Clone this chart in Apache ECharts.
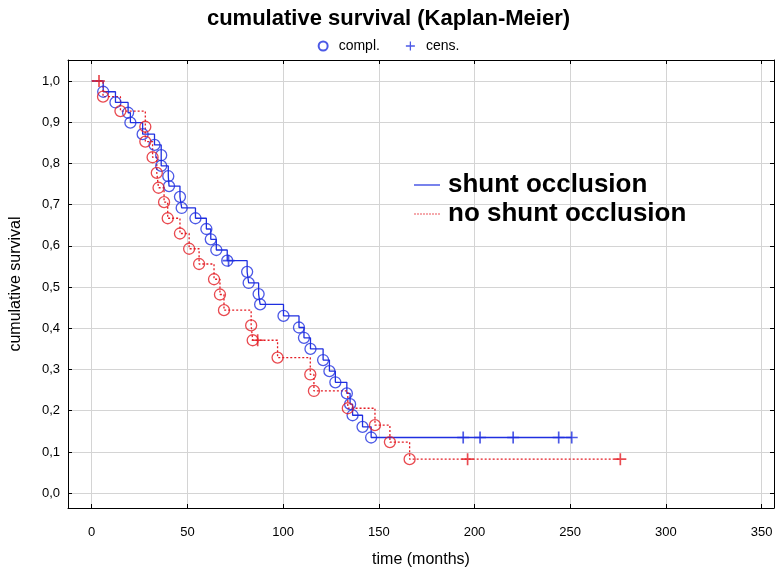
<!DOCTYPE html>
<html><head><meta charset="utf-8">
<script src="https://cdn.jsdelivr.net/npm/echarts@6/dist/echarts.min.js"></script>
<style>html,body{margin:0;padding:0;background:#fff}#c{width:777px;height:574px}</style>
</head><body><div id="c"></div>
<script>
// ---- data ----
const blueTimes = [6.0, 12.4, 19.0, 20.2, 26.6, 32.8, 36.3, 36.3, 40.0, 40.4, 46.1, 47.0, 54.2, 59.9, 62.2, 65.1, 70.8, 81.2, 82.0, 87.2, 88.0, 100.2, 108.3, 110.9, 114.3, 120.9, 124.2, 127.3, 133.3, 135.0, 136.3, 141.5, 146.0];
const blueSurv  = [0.974, 0.948, 0.923, 0.899, 0.871, 0.845, 0.820, 0.794, 0.769, 0.745, 0.719, 0.692, 0.667, 0.641, 0.616, 0.590, 0.564, 0.537, 0.510, 0.483, 0.458, 0.430, 0.402, 0.377, 0.350, 0.323, 0.296, 0.269, 0.242, 0.216, 0.189, 0.161, 0.135];
const blueCensored = [71.5, 194.1, 202.9, 220.2, 244.0, 250.8];
const redTimes = [5.9, 15.0, 28.0, 28.0, 31.8, 34.0, 34.9, 37.8, 39.7, 46.1, 50.9, 56.1, 63.9, 67.0, 69.1, 83.3, 84.1, 97.1, 114.2, 116.1, 133.8, 148.0, 155.8, 166.1];
const redSurv  = [0.962, 0.927, 0.889, 0.853, 0.815, 0.777, 0.741, 0.706, 0.667, 0.630, 0.593, 0.556, 0.519, 0.482, 0.444, 0.407, 0.371, 0.329, 0.288, 0.248, 0.206, 0.165, 0.124, 0.0825];
const redCensored = [3.8, 86.7, 196.4, 276.2];
const xTicks = [0, 50, 100, 150, 200, 250, 300, 350];
const yTicks = [0, 0.1, 0.2, 0.3, 0.4, 0.5, 0.6, 0.7, 0.8, 0.9, 1.0];
const seriesNames = ['shunt occlusion', 'no shunt occlusion'];
const markerNames = ['compl.', 'cens.'];

// ---- build ----
const BLUE = '#1f2fe0', RED = '#e41d24';
const PLUS = 'path://M4.3,0H5.7V4.3H10V5.7H5.7V10H4.3V5.7H0V4.3H4.3Z';
const FONT = '"Liberation Sans", Arial, sans-serif';
const SOLID_ICON = 'path://M0,0H26V1.2H0Z';
let dotted = '';
for (let i = 0; i < 26; i += 3) dotted += 'M' + i + ',0H' + (i + 1.5) + 'V1.2H' + i + 'Z';
const DOTTED_ICON = 'path://' + dotted;

function survAt(times, surv, t) { let s = 1; for (let i = 0; i < times.length; i++) if (times[i] <= t) s = surv[i]; return s; }
function stepData(times, surv, cens) {
  const d = [[0, 1]];
  times.forEach((t, i) => d.push([t, surv[i]]));
  const end = Math.max(cens[cens.length - 1], times[times.length - 1]);
  d.push([end, survAt(times, surv, end)]);
  return d;
}
function eventPts(times, surv) { return times.map((t, i) => [t, surv[i]]); }
function censPts(times, surv, cens) { return cens.map(t => [t, survAt(times, surv, t)]); }

const circleStyle = c => ({ color: 'rgba(0,0,0,0)', borderColor: c, borderWidth: 1.3 });

const option = {
  animation: false,
  backgroundColor: '#fff',
  title: { text: 'cumulative survival (Kaplan-Meier)', left: 'center', top: 3,
    textStyle: { fontFamily: FONT, fontSize: 22, fontWeight: 'bold', color: '#000' } },
  legend: [
    { data: markerNames, top: 34, left: 'center', itemGap: 26, itemWidth: 9, itemHeight: 9,
      textStyle: { fontFamily: FONT, fontSize: 14, color: '#000', padding: [0, 0, 0, 6] }, selectedMode: false },
    { data: [{ name: seriesNames[0], icon: SOLID_ICON }, { name: seriesNames[1], icon: DOTTED_ICON }],
      orient: 'vertical', left: 409, top: 167, itemGap: 3, itemWidth: 26, itemHeight: 1.2,
      textStyle: { fontFamily: FONT, fontSize: 26, fontWeight: 'bold', color: '#000', padding: [0, 0, 0, 3] }, selectedMode: false }
  ],
  grid: { left: 62, right: 3, top: 60, bottom: 66, containLabel: false },
  xAxis: [
    { type: 'value', min: -12.4, max: 356.5, position: 'bottom',
      name: 'time (months)', nameLocation: 'middle', nameGap: 44,
      nameTextStyle: { fontFamily: FONT, fontSize: 16, color: '#000' },
      axisLine: { show: true, onZero: false, lineStyle: { color: '#000', width: 1 } },
      axisTick: { show: true, inside: true, length: 4, customValues: xTicks, lineStyle: { color: '#000' } },
      axisLabel: { customValues: xTicks, margin: 18, fontFamily: FONT, fontSize: 13, color: '#000' },
      splitLine: { show: true, lineStyle: { color: '#d4d4d4', width: 1 } } },
    { type: 'value', min: -12.4, max: 356.5, position: 'top',
      axisLine: { show: true, onZero: false, lineStyle: { color: '#000', width: 1 } },
      axisTick: { show: true, inside: true, length: 4, customValues: xTicks, lineStyle: { color: '#000' } },
      axisLabel: { show: false }, splitLine: { show: false } }
  ],
  yAxis: [
    { type: 'value', min: -0.036, max: 1.051, position: 'left',
      name: 'cumulative survival', nameLocation: 'middle', nameGap: 44,
      nameTextStyle: { fontFamily: FONT, fontSize: 16, color: '#000' },
      axisLine: { show: true, onZero: false, lineStyle: { color: '#000', width: 1 } },
      axisTick: { show: true, inside: true, length: 4, customValues: yTicks, lineStyle: { color: '#000' } },
      axisLabel: { customValues: yTicks, margin: 8, fontFamily: FONT, fontSize: 13, color: '#000',
        formatter: v => v.toFixed(1).replace('.', ',') },
      splitLine: { show: true, lineStyle: { color: '#d4d4d4', width: 1 } } },
    { type: 'value', min: -0.036, max: 1.051, position: 'right',
      axisLine: { show: true, onZero: false, lineStyle: { color: '#000', width: 1 } },
      axisTick: { show: true, inside: true, length: 4, customValues: yTicks, lineStyle: { color: '#000' } },
      axisLabel: { show: false }, splitLine: { show: false } }
  ],
  series: [
    { name: seriesNames[0], type: 'line', step: 'end', symbol: 'none', data: stepData(blueTimes, blueSurv, blueCensored),
      lineStyle: { color: BLUE, width: 1.3 }, itemStyle: { color: BLUE }, z: 2 },
    { name: seriesNames[1], type: 'line', step: 'end', symbol: 'none', data: stepData(redTimes, redSurv, redCensored),
      lineStyle: { color: RED, width: 1.3, type: [2, 2] }, itemStyle: { color: RED }, z: 3 },
    { name: 'blueEv', type: 'scatter', symbol: 'circle', symbolSize: 11, data: eventPts(blueTimes, blueSurv),
      itemStyle: circleStyle(BLUE), z: 4 },
    { name: 'redEv', type: 'scatter', symbol: 'circle', symbolSize: 11, data: eventPts(redTimes, redSurv),
      itemStyle: circleStyle(RED), z: 5 },
    { name: 'blueCens', type: 'scatter', symbol: PLUS, symbolSize: 12, data: censPts(blueTimes, blueSurv, blueCensored),
      itemStyle: { color: BLUE }, z: 6 },
    { name: 'redCens', type: 'scatter', symbol: PLUS, symbolSize: 12, data: censPts(redTimes, redSurv, redCensored),
      itemStyle: { color: RED }, z: 7 },
    { name: markerNames[0], type: 'scatter', symbol: 'circle', data: [], itemStyle: circleStyle(BLUE) },
    { name: markerNames[1], type: 'scatter', symbol: PLUS, data: [], itemStyle: { color: BLUE } }
  ]
};
echarts.init(document.getElementById('c')).setOption(option);
</script></body></html>
